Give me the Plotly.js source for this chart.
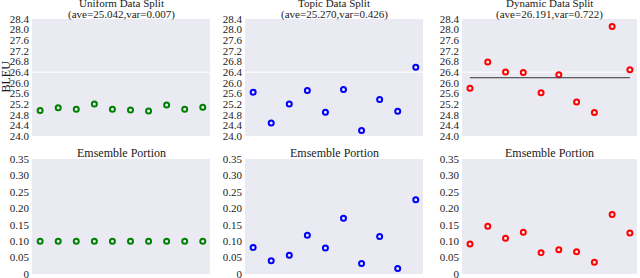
<!DOCTYPE html>
<html><head><meta charset="utf-8">
<script src="https://cdn.plot.ly/plotly-3.0.1.min.js"></script>
<style>html,body{margin:0;padding:0;background:#fff;}#chart{width:640px;height:278px;}</style>
</head><body><div id="chart"></div>
<script>
const idx = [1,2,3,4,5,6,7,8,9,10];
const uniformBleu = [24.96,25.06,25.01,25.20,25.01,24.98,24.94,25.17,25.01,25.08];
const topicBleu   = [25.65,24.49,25.20,25.71,24.89,25.75,24.21,25.37,24.93,26.59];
const dynamicBleu = [25.80,26.78,26.41,26.39,25.63,26.30,25.28,24.88,28.12,26.49];
const uniformPortion = [0.10,0.10,0.10,0.10,0.10,0.10,0.10,0.10,0.10,0.10];
const topicPortion   = [0.081,0.040,0.057,0.118,0.079,0.170,0.032,0.114,0.017,0.226];
const dynamicPortion = [0.091,0.145,0.109,0.127,0.065,0.074,0.068,0.036,0.181,0.125];
const dynamicMean = 26.191;
const gridLineValue = 26.4;
const topTitles1 = ["Uniform Data Split","Topic Data Split","Dynamic Data Split"];
const topTitles2 = ["(ave=25.042,var=0.007)","(ave=25.270,var=0.426)","(ave=26.191,var=0.722)"];
const bottomTitle = "Emsemble Portion";
const bleuTicks = [24.0,24.4,24.8,25.2,25.6,26.0,26.4,26.8,27.2,27.6,28.0,28.4];
const bleuTickText = ["24.0","24.4","24.8","25.2","25.6","26.0","26.4","26.8","27.2","27.6","28.0","28.4"];
const portionTicks = [0,0.05,0.10,0.15,0.20,0.25,0.30,0.35];
const portionTickText = ["0","0.05","0.10","0.15","0.20","0.25","0.30","0.35"];
const colors = ["#008000","#0000ff","#ff0000"];
const FONT = "'Liberation Serif', 'DejaVu Serif', serif";

const bleu = [uniformBleu, topicBleu, dynamicBleu];
const portion = [uniformPortion, topicPortion, dynamicPortion];
const xDomains = [[32/640,210/640],[245/640,423/640],[462/640,637/640]];
const topDom = [(278-136)/278,(278-19)/278];
const botDom = [(278-274)/278,(278-159)/278];
const py = v => (278-v)/278;

const traces = [];
const layout = {
  width:640, height:278, margin:{l:0,r:0,t:0,b:0},
  paper_bgcolor:"#ffffff", plot_bgcolor:"#EAEAF2",
  showlegend:false, font:{family:FONT, size:11, color:"#222"},
  annotations:[], shapes:[]
};
const tf = {family:FONT,size:11,color:"#1a1a1a"};
for (let i=0;i<3;i++){
  const nT = 2*i+1, nB = 2*i+2;
  const xa = "x"+(nT===1?"":nT), ya = "y"+(nT===1?"":nT);
  const xb = "x"+nB, yb = "y"+nB;
  const mk = {symbol:"circle-open", size:5, color:colors[i], line:{width:2, color:colors[i]}};
  traces.push({x:idx, y:bleu[i], xaxis:xa, yaxis:ya, mode:"markers", type:"scatter", marker:mk, cliponaxis:false});
  traces.push({x:idx, y:portion[i], xaxis:xb, yaxis:yb, mode:"markers", type:"scatter", marker:mk, cliponaxis:false});
  const xr = [0.55,10.4];
  const xcommon = {range:xr, showticklabels:false, showgrid:false, zeroline:false, ticks:""};
  layout["xaxis"+(nT===1?"":nT)] = Object.assign({domain:xDomains[i], anchor:ya}, xcommon);
  layout["xaxis"+nB] = Object.assign({domain:xDomains[i], anchor:yb}, xcommon);
  layout["yaxis"+(nT===1?"":nT)] = {domain:topDom, anchor:xa, range:[24.0,28.4], tickvals:bleuTicks, ticktext:bleuTickText,
     showgrid:false, zeroline:false, ticks:"", ticklabelstandoff:2, ticklabeloverflow:"allow", tickfont:tf};
  layout["yaxis"+nB] = {domain:botDom, anchor:xb, range:[0,0.35], tickvals:portionTicks, ticktext:portionTickText,
     showgrid:false, zeroline:false, ticks:"", ticklabelstandoff:2, ticklabeloverflow:"allow", tickfont:tf};
  layout.shapes.push({type:"line", xref:xa+" domain", yref:ya, x0:0, x1:1, y0:gridLineValue, y1:gridLineValue, line:{color:"#ffffff", width:1}, layer:"below"});
  const cx = (xDomains[i][0]+xDomains[i][1])/2;
  layout.annotations.push({text:topTitles1[i], xref:"paper", yref:"paper", x:cx, y:py(3), yanchor:"middle", xanchor:"center", showarrow:false, font:{family:FONT,size:11,color:"#1a1a1a"}});
  layout.annotations.push({text:topTitles2[i], xref:"paper", yref:"paper", x:cx, y:py(14), yanchor:"middle", xanchor:"center", showarrow:false, font:{family:FONT,size:11,color:"#1a1a1a"}});
  layout.annotations.push({text:bottomTitle, xref:"paper", yref:"paper", x:cx, y:py(153), yanchor:"middle", xanchor:"center", showarrow:false, font:{family:FONT,size:12,color:"#1a1a1a"}});
}
layout.shapes.push({type:"line", xref:"x5", yref:"y5", x0:1, x1:10, y0:dynamicMean, y1:dynamicMean, line:{color:"#333333", width:1}});
layout.annotations.push({text:"BLEU", xref:"paper", yref:"paper", x:5.5/640, y:py(77), textangle:-90, xanchor:"center", yanchor:"middle", showarrow:false, font:{family:FONT,size:12,color:"#1a1a1a"}});
Plotly.newPlot("chart", traces, layout, {staticPlot:true});
</script></body></html>
